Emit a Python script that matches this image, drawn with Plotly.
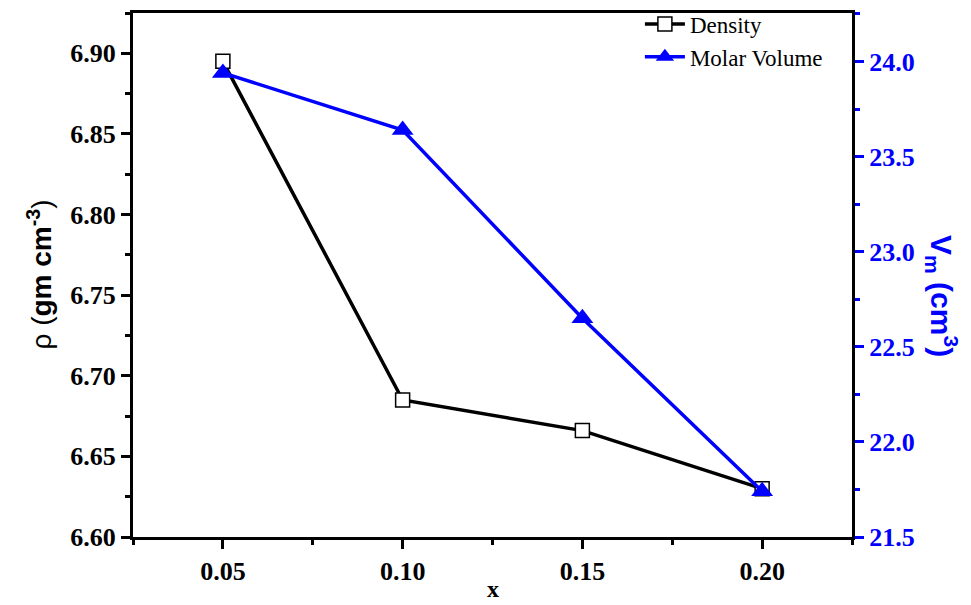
import plotly.graph_objects as go

x_vals = [0.05, 0.10, 0.15, 0.20]
density = [6.895, 6.685, 6.666, 6.630]
molar_volume = [23.94, 23.64, 22.65, 21.74]

x_ticks = [0.05, 0.10, 0.15, 0.20]
x_ticktext = ["0.05", "0.10", "0.15", "0.20"]
y1_ticks = [6.60, 6.65, 6.70, 6.75, 6.80, 6.85, 6.90]
y1_ticktext = ["6.60", "6.65", "6.70", "6.75", "6.80", "6.85", "6.90"]
y2_ticks = [21.5, 22.0, 22.5, 23.0, 23.5, 24.0]
y2_ticktext = ["21.5", "22.0", "22.5", "23.0", "23.5", "24.0"]

BLUE = "#0000FF"
SERIF = "Liberation Serif"
SANS = "Liberation Sans"

fig = go.Figure()
fig.add_trace(go.Scatter(
    x=x_vals, y=density, name="Density", mode="lines+markers",
    line=dict(color="black", width=3.5),
    marker=dict(symbol="square", size=14, color="white",
                line=dict(color="black", width=1.5)),
    yaxis="y",
))
fig.add_trace(go.Scatter(
    x=x_vals, y=molar_volume, name="Molar Volume", mode="lines+markers",
    line=dict(color=BLUE, width=3.5),
    marker=dict(symbol="triangle-up", size=19, color=BLUE,
                line=dict(color=BLUE, width=0)),
    yaxis="y2",
))

fig.update_layout(
    width=971, height=605,
    margin=dict(l=133, r=119, t=13, b=68, autoexpand=False),
    paper_bgcolor="white", plot_bgcolor="white",
    showlegend=True,
    legend=dict(x=0.705, y=1.02, xanchor="left", yanchor="top",
                bgcolor="rgba(0,0,0,0)", borderwidth=0,
                font=dict(family=SERIF, size=23, color="black"),
                tracegroupgap=0, itemwidth=40),
    xaxis=dict(
        range=[0.025, 0.225], tickvals=x_ticks, ticktext=x_ticktext,
        showgrid=False, zeroline=False,
        showline=True, linecolor="black", linewidth=3, mirror=True,
        ticks="outside", ticklen=9, tickwidth=3, tickcolor="black",
        minor=dict(tickvals=[0.025, 0.075, 0.125, 0.175, 0.225], ticks="outside",
                   ticklen=5, tickwidth=3, tickcolor="black", showgrid=False),
        tickfont=dict(family=SERIF, size=26, color="black", weight="bold"),
    ),
    yaxis=dict(
        range=[6.60, 6.925], tickvals=y1_ticks, ticktext=y1_ticktext,
        showgrid=False, zeroline=False,
        showline=True, linecolor="black", linewidth=3,
        ticks="outside", ticklen=9, tickwidth=3, tickcolor="black",
        minor=dict(dtick=0.025, tick0=6.6, ticks="outside",
                   ticklen=5, tickwidth=3, tickcolor="black", showgrid=False),
        tickfont=dict(family=SERIF, size=26, color="black", weight="bold"),
    ),
    yaxis2=dict(
        range=[21.5, 24.255], tickvals=y2_ticks, ticktext=y2_ticktext,
        overlaying="y", side="right",
        showgrid=False, zeroline=False,
        showline=True, linecolor="black", linewidth=3,
        ticks="outside", ticklen=9, tickwidth=3, tickcolor=BLUE,
        minor=dict(dtick=0.25, tick0=21.5, ticks="outside",
                   ticklen=5, tickwidth=3, tickcolor=BLUE, showgrid=False),
        tickfont=dict(family=SERIF, size=26, color=BLUE, weight="bold"),
    ),
    annotations=[
        dict(text="<b>x</b>", x=0.5, y=-0.07, xref="paper", yref="paper",
             xanchor="center", yanchor="top", showarrow=False,
             font=dict(family=SERIF, size=24, color="black")),
        dict(text="ρ (<b>gm cm<sup>-3</sup></b>)", x=-0.13, y=0.50,
             xref="paper", yref="paper", xanchor="center", yanchor="middle",
             textangle=-90, showarrow=False,
             font=dict(family=SANS, size=28, color="black")),
        dict(text="<b>V<sub>m</sub> (cm<sup>3</sup>)</b>", x=1.125, y=0.46,
             xref="paper", yref="paper", xanchor="center", yanchor="middle",
             textangle=90, showarrow=False,
             font=dict(family=SANS, size=30, color=BLUE)),
    ],
)

fig.write_html("out.html")
